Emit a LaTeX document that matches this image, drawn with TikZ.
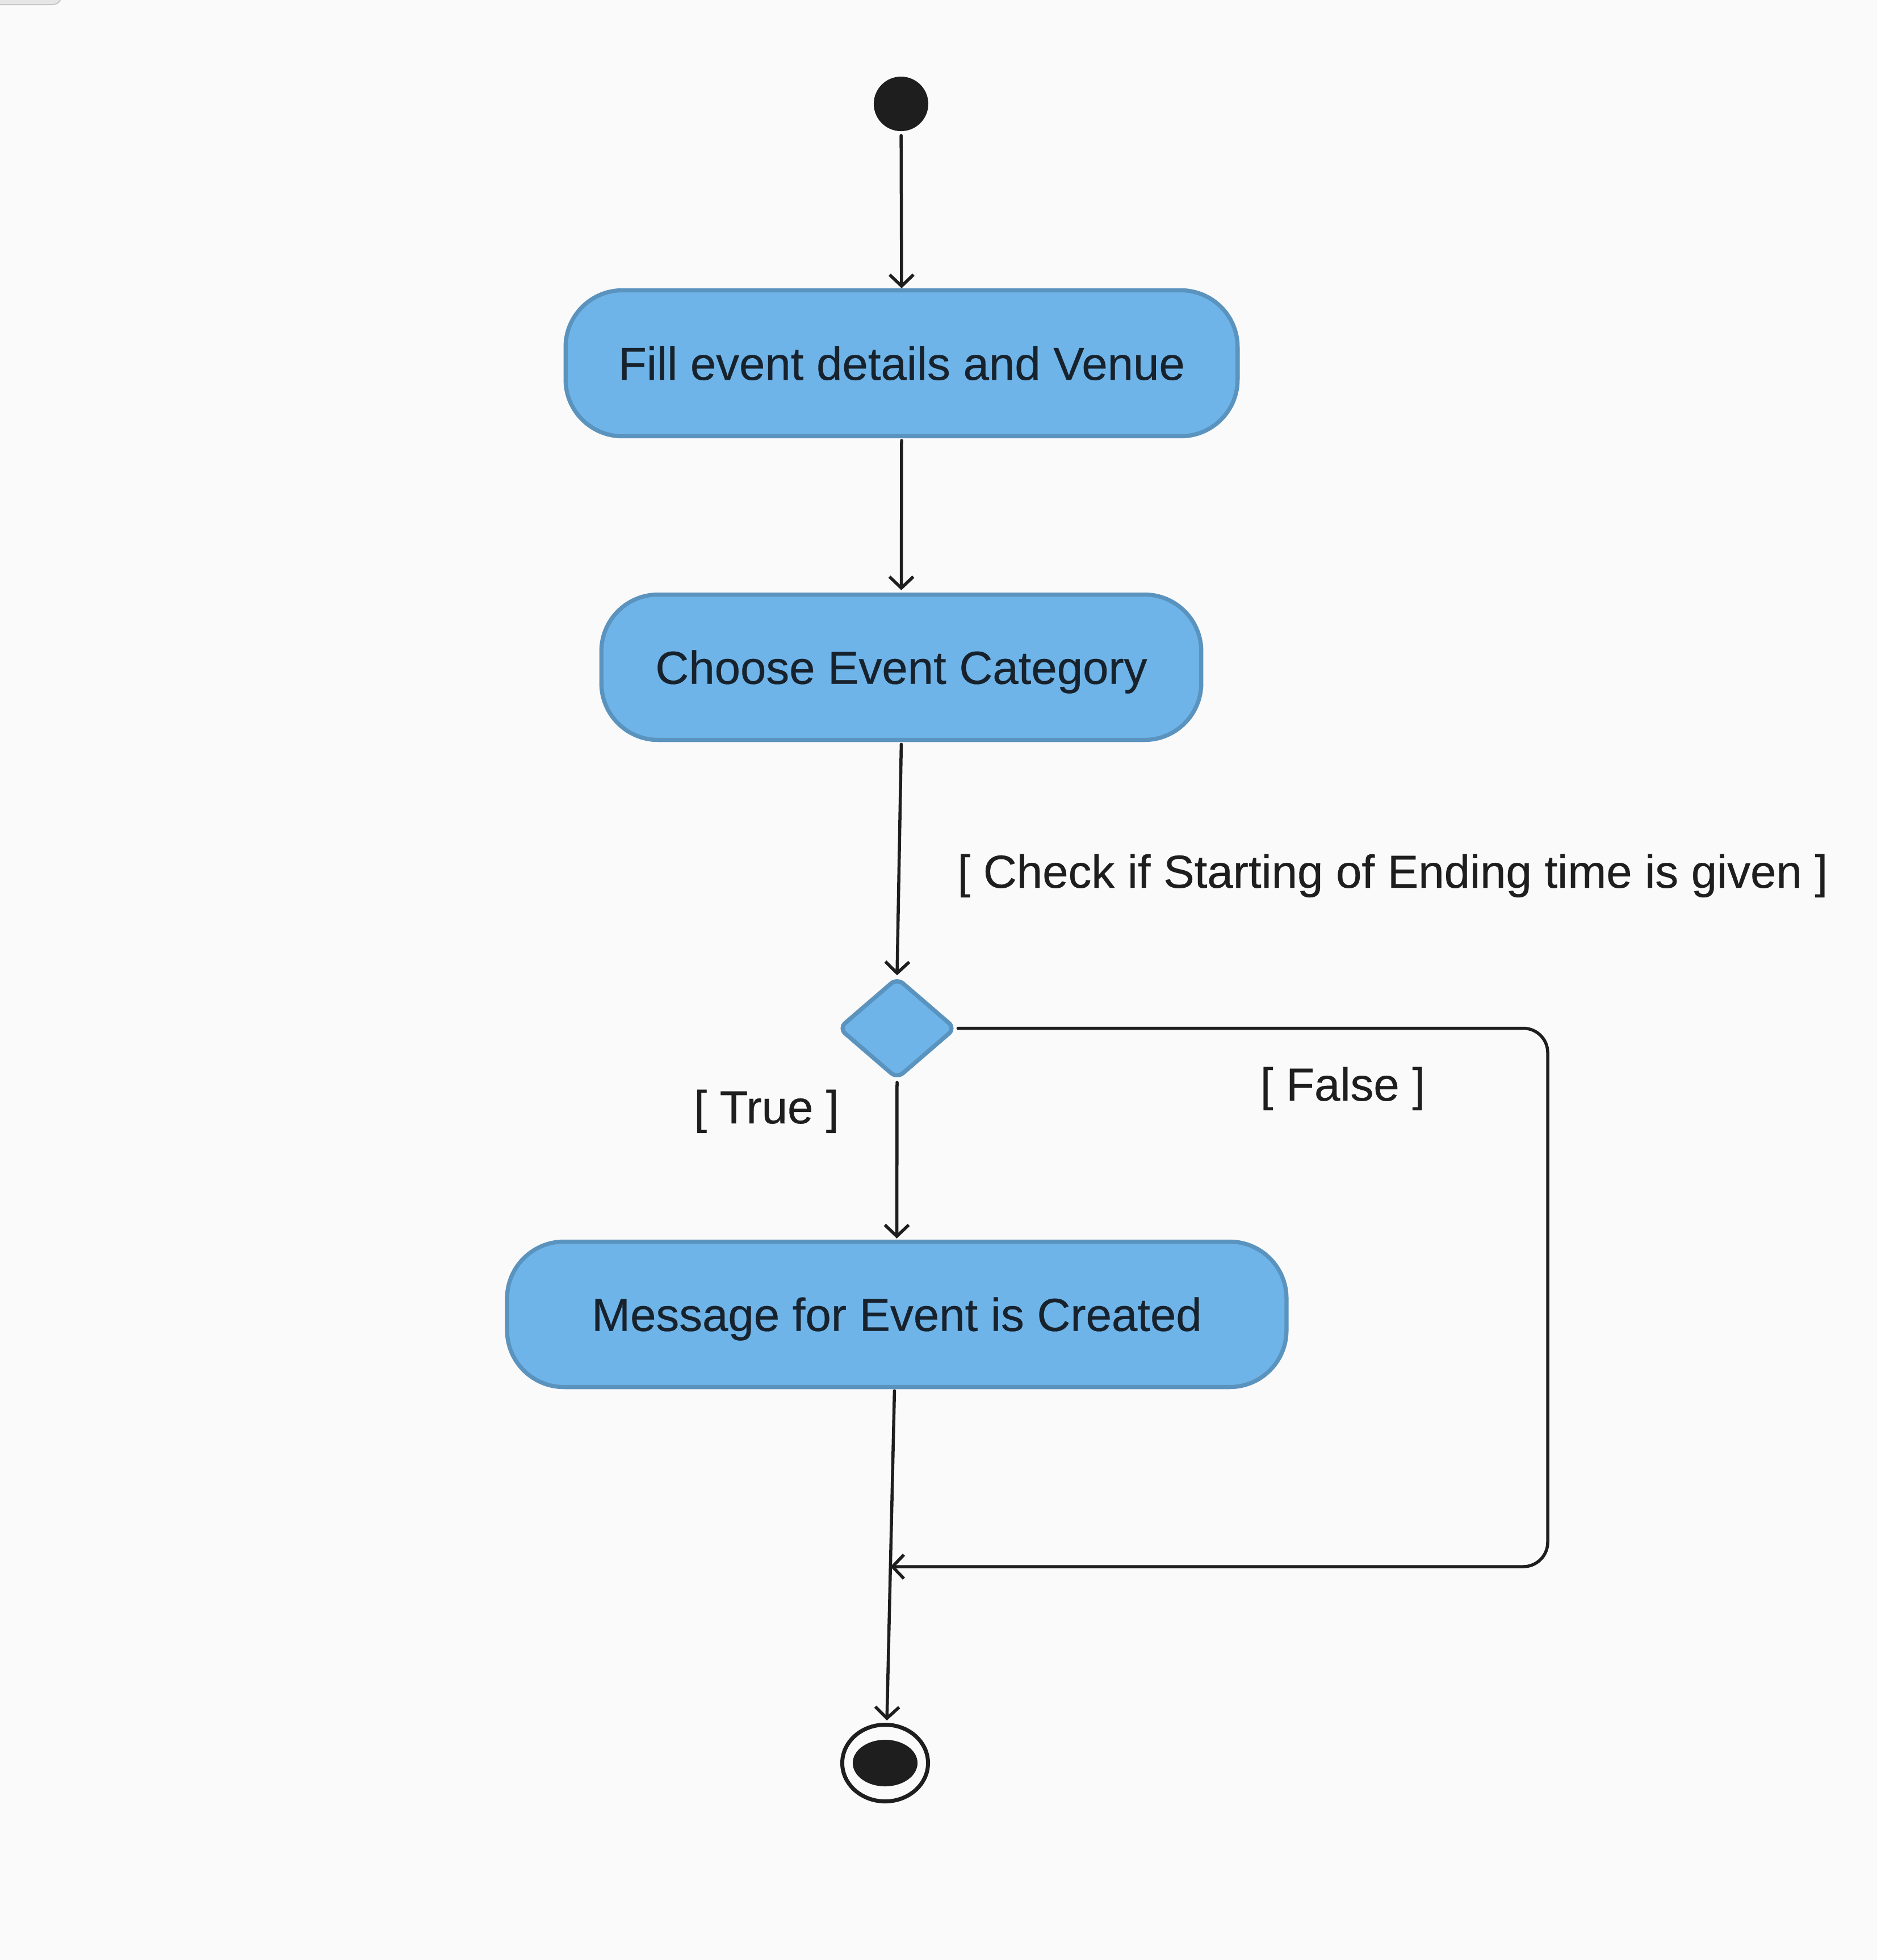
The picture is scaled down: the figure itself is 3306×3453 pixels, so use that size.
\documentclass[tikz,border=0pt]{standalone}
\usepackage{fontspec}
\setmainfont{Liberation Sans}
\newfontfamily\tfont{Liberation Sans}[FakeBold=0.4]
\usetikzlibrary{shapes.geometric,arrows.meta,calc}
\definecolor{bgc}{HTML}{FAFAFA}
\definecolor{boxfill}{HTML}{6EB4E8}
\definecolor{boxline}{HTML}{5B93BF}
\definecolor{txt}{HTML}{17222D}
\definecolor{ln}{HTML}{1E1E1E}
\definecolor{greyc}{HTML}{E6E6E6}
\definecolor{greyl}{HTML}{C8C8C8}
\begin{document}
\begin{tikzpicture}[x=0.01cm,y=-0.01cm,
  every node/.style={font=\tfont\fontsize{23.2pt}{28pt}\selectfont},
  actbox/.style={draw=boxline, fill=boxfill, line width=0.073cm, rounded corners=1.0cm,
    inner sep=0pt, text=txt, text height=16.6pt, text depth=0pt},
  conn/.style={draw=ln, line width=0.055cm, line cap=round, line join=round,
    -{Straight Barb[length=0.2cm,width=0.42cm]}},
  guard/.style={text=ln, anchor=base, inner sep=0pt}]
\useasboundingbox (0,0) rectangle (3306,3453);
\fill[bgc] (0,0) rectangle (3306,3453);
\draw[fill=greyc, draw=greyl, line width=0.02cm, rounded corners=0.15cm] (-30,-40) rectangle (108,8);

% nodes
\node[circle, fill=ln, minimum size=0.96cm, inner sep=0pt] (start) at (1587,183) {};
\node[actbox, minimum width=11.83cm, minimum height=2.57cm] (b1) at (1588,640) {Fill event details and Venue};
\node[actbox, minimum width=10.56cm, minimum height=2.56cm] (b2) at (1587.5,1175.5) {Choose Event Category};
\node[diamond, draw=boxline, fill=boxfill, line width=0.075cm, rounded corners=0.14cm,
  minimum width=2.07cm, minimum height=1.79cm, inner sep=0pt] (dia) at (1580,1811.5) {};
\node[actbox, minimum width=13.72cm, minimum height=2.56cm] (b3) at (1579.5,2315.5) {Message for Event is Created};
\node[ellipse, draw=ln, line width=0.07cm, fill=bgc, minimum width=1.51cm, minimum height=1.35cm, inner sep=0pt] (end) at (1559,3106) {};
\node[ellipse, fill=ln, minimum width=1.14cm, minimum height=0.82cm, inner sep=0pt] (endin) at (end) {};

% labels
\node[guard] (g1) at (2453,1564) {[ Check if Starting of Ending time is given ]};
\node[guard] (g2) at (1350,1979) {[ True ]};
\node[guard] (g3) at (2365,1939) {[ False ]};

% connectors
\draw[conn, shorten <=0.07cm] (start) -- (b1.north);
\draw[conn, shorten <=0.04cm, shorten >=0.04cm] (b1.south) -- (b2.north);
\draw[conn, shorten <=0.04cm] (b2.south) -- (dia.north);
\draw[conn, shorten <=0.02cm, shorten >=0.02cm] (dia.south) -- (b3.north);
\coordinate (p) at ([xshift=-0.04cm]b3.south);
\coordinate (q) at ([xshift=0.03cm]end.north);
\coordinate (h1) at (0,2760);
\coordinate (h2) at (3306,2760);
\coordinate (j0) at (intersection of p--q and h1--h2);
\coordinate (j) at (j0 |- h1);
\coordinate (c1) at (2726,2760);
\draw[conn, shorten <=0.03cm, shorten >=0.04cm] (p) -- (q);
\draw[conn, rounded corners=0.43cm] (dia.east) -| (c1) -- (j);
\end{tikzpicture}
\end{document}
